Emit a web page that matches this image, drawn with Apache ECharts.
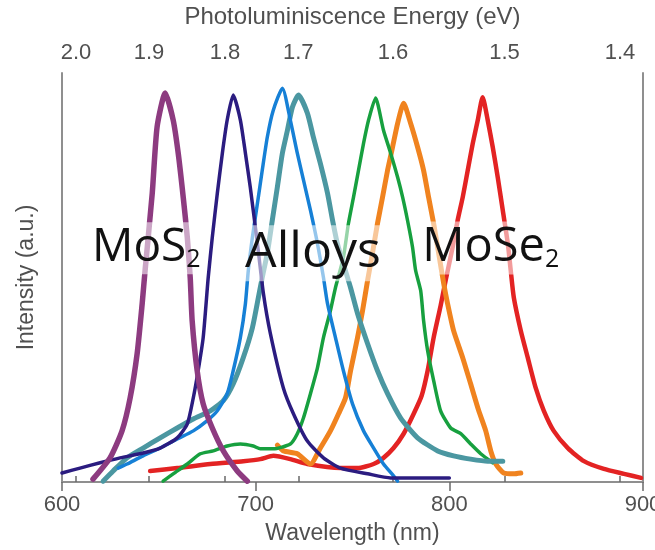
<!DOCTYPE html>
<html>
<head>
<meta charset="utf-8">
<title>Photoluminescence spectra</title>
<script src="https://cdn.jsdelivr.net/npm/echarts@6/dist/echarts.min.js"></script>
<style>
  html, body { margin: 0; padding: 0; background: #ffffff; }
  #chart { width: 655px; height: 550px; }
</style>
</head>
<body>
<div id="chart"></div>
<script>
// wavelength (nm) / normalised intensity
const mos2Wl = [616, 624.8, 631, 635.2, 638.8, 641.4, 642.9, 646.6, 649.1, 653.3, 657.4, 660, 662.6, 664.7, 666.2, 667.2, 669.8, 672.9, 677.6, 683.3, 690.5, 695.7];
const mos2Int = [0.007, 0.059, 0.125, 0.206, 0.314, 0.436, 0.517, 0.706, 0.868, 0.951, 0.885, 0.804, 0.696, 0.598, 0.5, 0.395, 0.272, 0.191, 0.132, 0.076, 0.027, 0.002];

const navyWl = [600, 609.3, 619.7, 630, 641.9, 650.7, 659.5, 664.7, 667.8, 670.3, 672.9, 675.5, 677.6, 680.2, 682.8, 685.3, 688.4, 692.1, 694.7, 697.2, 700.9, 704, 707.6, 714.3, 719.5, 726.7, 735, 743.8, 757.8, 769.7, 800];
const navyInt = [0.022, 0.034, 0.047, 0.059, 0.071, 0.083, 0.108, 0.142, 0.206, 0.272, 0.353, 0.5, 0.598, 0.706, 0.804, 0.885, 0.946, 0.885, 0.804, 0.721, 0.583, 0.461, 0.363, 0.23, 0.167, 0.1, 0.059, 0.034, 0.02, 0.01, 0.01];

const blueWl = [629, 633.6, 641.9, 650.7, 659.5, 667.8, 675, 680.2, 685.3, 688.4, 692.1, 694.7, 696.2, 698.3, 700.9, 703.4, 706, 709.1, 713.8, 717.9, 721.5, 724.7, 728.3, 731.9, 735, 737.1, 741.2, 745.3, 750, 755.7, 760.9, 766, 771.2, 773.3];
const blueInt = [0.034, 0.044, 0.064, 0.083, 0.105, 0.125, 0.15, 0.174, 0.216, 0.272, 0.353, 0.436, 0.517, 0.598, 0.681, 0.762, 0.843, 0.909, 0.963, 0.885, 0.804, 0.738, 0.664, 0.583, 0.5, 0.436, 0.353, 0.272, 0.191, 0.125, 0.083, 0.044, 0.015, 0.002];

const tealWl = [621.2, 626.4, 633.6, 641.9, 650.7, 659.5, 667.8, 676.6, 683.3, 688.4, 693.6, 698.3, 701.4, 703.4, 706, 708.6, 711.2, 713.8, 716.4, 719, 722.1, 726.7, 729.8, 733.4, 737.1, 739.7, 742.2, 749, 752.6, 757.8, 762.9, 768.1, 774.8, 783.6, 794, 802.2, 811, 819.8, 827.6];
const tealInt = [0.002, 0.027, 0.059, 0.083, 0.108, 0.132, 0.154, 0.174, 0.199, 0.24, 0.304, 0.377, 0.451, 0.5, 0.559, 0.64, 0.721, 0.804, 0.86, 0.917, 0.946, 0.902, 0.843, 0.779, 0.706, 0.64, 0.583, 0.475, 0.412, 0.338, 0.272, 0.216, 0.157, 0.108, 0.076, 0.064, 0.056, 0.051, 0.051];

const greenWl = [652.2, 657.4, 664.7, 671.4, 678.1, 685.3, 692.1, 698.8, 702.4, 709.1, 717.9, 721.5, 724.7, 728.3, 731.9, 735, 738.6, 741.2, 745.3, 747.9, 750.5, 753.1, 755.7, 758.3, 761.9, 766, 769.7, 773.3, 775.9, 778.4, 781, 782.6, 785.2, 786.7, 788.8, 791.9, 795.5, 800.7, 805.9, 811, 816.2, 822.4];
const greenInt = [0.002, 0.02, 0.044, 0.069, 0.076, 0.088, 0.093, 0.088, 0.081, 0.081, 0.093, 0.118, 0.157, 0.216, 0.279, 0.353, 0.419, 0.475, 0.549, 0.632, 0.696, 0.762, 0.828, 0.885, 0.939, 0.86, 0.804, 0.745, 0.696, 0.64, 0.574, 0.517, 0.468, 0.395, 0.321, 0.248, 0.174, 0.132, 0.118, 0.093, 0.069, 0.047];

const orangeWl = [711.2, 714.3, 721.5, 728.3, 733.4, 738.6, 742.8, 746.4, 749, 752.6, 755.2, 757.8, 760.3, 762.9, 765.5, 768.1, 770.7, 773.3, 776.4, 780, 783.6, 786.7, 789.3, 791.9, 794.5, 797.1, 799.1, 802.2, 806.9, 811, 815.2, 818.8, 821.4, 824, 828.1, 833.3, 836.9];
const orangeInt = [0.09, 0.076, 0.069, 0.044, 0.083, 0.125, 0.167, 0.206, 0.272, 0.353, 0.419, 0.493, 0.559, 0.632, 0.696, 0.762, 0.819, 0.877, 0.926, 0.877, 0.819, 0.762, 0.696, 0.632, 0.559, 0.485, 0.436, 0.37, 0.304, 0.24, 0.174, 0.125, 0.076, 0.044, 0.022, 0.02, 0.022];

const redWl = [645.5, 659.5, 676.6, 693.6, 702.4, 709.1, 717.9, 726.7, 743.8, 752.6, 760.9, 766, 771.2, 776.4, 781.6, 785.7, 788.8, 791.9, 795.5, 798.1, 801.7, 804.3, 806.9, 809.5, 812.1, 814.7, 817.2, 819.8, 822.4, 825, 827.6, 830.2, 831.7, 833.3, 836.9, 840.5, 844.6, 848.8, 853.9, 861.2, 869.5, 879.8, 890.2, 899];
const redInt = [0.027, 0.034, 0.044, 0.051, 0.056, 0.064, 0.056, 0.044, 0.034, 0.034, 0.044, 0.059, 0.083, 0.118, 0.167, 0.211, 0.272, 0.353, 0.431, 0.493, 0.574, 0.64, 0.696, 0.762, 0.828, 0.885, 0.941, 0.885, 0.819, 0.745, 0.664, 0.583, 0.517, 0.451, 0.37, 0.304, 0.23, 0.174, 0.125, 0.083, 0.051, 0.032, 0.02, 0.01];

// top axis: photon energy labels and where they sit on the wavelength scale
const energyLabels = ['2.0', '1.9', '1.8', '1.7', '1.6', '1.5', '1.4'];
const energyTickWl = [607.2, 644.9, 684.2, 722.0, 770.9, 828.5, 888.1];

const AXIS_FONT = '"Liberation Sans", Arial, sans-serif';
const LABEL_FONT = '"Open Sans", "Noto Sans", sans-serif';
const AXIS_GREY = '#8f8f8f';
const TEXT_GREY = '#505050';

function pairUp(xs, ys) {
  return xs.map((x, i) => [x, ys[i]]);
}

function spectrum(name, xs, ys, color, width) {
  return {
    name,
    type: 'line',
    data: pairUp(xs, ys),
    showSymbol: false,
    smooth: 0.2,
    lineStyle: { color, width, cap: 'round', join: 'round' },
    itemStyle: { color },
    silent: true,
  };
}

const chart = echarts.init(document.getElementById('chart'), null, { renderer: 'canvas' });

chart.setOption({
  animation: false,
  grid: { left: 62, right: 12, top: 73, bottom: 68, outerBoundsMode: 'none', containLabel: false },
  xAxis: [{
    type: 'value',
    position: 'bottom',
    min: 600,
    max: 900,
    interval: 100,
    name: 'Wavelength (nm)',
    nameLocation: 'middle',
    nameGap: 40,
    nameTextStyle: { fontFamily: AXIS_FONT, fontSize: 23, color: TEXT_GREY },
    axisLine: { lineStyle: { color: AXIS_GREY, width: 2 } },
    axisTick: { length: 9, lineStyle: { color: '#6a6a6a', width: 1.5 } },
    axisLabel: { fontFamily: AXIS_FONT, fontSize: 22, color: TEXT_GREY, margin: 12, hideOverlap: false },
    splitLine: { show: false },
  }, {
    type: 'value',
    position: 'top',
    min: 600,
    max: 900,
    name: 'Photoluminiscence Energy (eV)',
    nameLocation: 'middle',
    nameGap: 44,
    nameTextStyle: { fontFamily: AXIS_FONT, fontSize: 24, color: TEXT_GREY },
    axisLine: { lineStyle: { color: AXIS_GREY, width: 2 } },
    axisTick: { customValues: energyTickWl, length: 6, lineStyle: { color: '#6a6a6a', width: 1.5 } },
    axisLabel: {
      customValues: energyTickWl,
      fontFamily: AXIS_FONT,
      fontSize: 22,
      color: TEXT_GREY,
      margin: 9,
      formatter: (value) => {
        const i = energyTickWl.findIndex((w) => Math.abs(w - value) < 0.01);
        return i >= 0 ? energyLabels[i] : '';
      },
    },
    splitLine: { show: false },
  }],
  yAxis: [{
    type: 'value',
    min: 0,
    max: 1,
    name: 'Intensity (a.u.)',
    nameLocation: 'middle',
    nameGap: 24,
    nameTextStyle: { fontFamily: AXIS_FONT, fontSize: 23, color: TEXT_GREY },
    axisLine: { show: true, lineStyle: { color: AXIS_GREY, width: 2 } },
    axisTick: { show: false },
    axisLabel: { show: false },
    splitLine: { show: false },
  }, {
    type: 'value',
    position: 'right',
    min: 0,
    max: 1,
    axisLine: { show: true, lineStyle: { color: AXIS_GREY, width: 2 } },
    axisTick: { show: false },
    axisLabel: { show: false },
    splitLine: { show: false },
  }],
  series: [
    spectrum('red', redWl, redInt, '#e32323', 4.5),
    spectrum('orange', orangeWl, orangeInt, '#f0831f', 5),
    spectrum('green', greenWl, greenInt, '#17a03f', 3.5),
    spectrum('teal', tealWl, tealInt, '#4b97a1', 5),
    spectrum('blue', blueWl, blueInt, '#1680d6', 3.5),
    spectrum('navy', navyWl, navyInt, '#2b1c80', 3.5),
    spectrum('MoS2', mos2Wl, mos2Int, '#8d3b80', 5.5),
  ],
});

// big in-plot labels, anchored in data coordinates (left edge, baseline)
const plotLabels = [
  { main: 'MoS', sub: '2', size: 46, at: [615.5, 0.545] },
  { main: 'Alloys', sub: '', size: 50, at: [694.5, 0.53] },
  { main: 'MoSe', sub: '2', size: 47, at: [786, 0.545] },
];

chart.setOption({
  graphic: plotLabels.map((label) => {
    const [px, py] = chart.convertToPixel({ xAxisIndex: 0, yAxisIndex: 0 }, label.at);
    return {
      type: 'text',
      x: px,
      y: py - label.size * 0.8,
      z: 100,
      style: {
        text: label.sub ? `{m|${label.main}}{s|${label.sub}}` : `{m|${label.main}}`,
        backgroundColor: 'rgba(255,255,255,0.55)',
        padding: [2, 3, 2, 0],
        rich: {
          m: { fontFamily: LABEL_FONT, fontSize: label.size, lineHeight: label.size + 2, fill: '#111111' },
          s: { fontFamily: LABEL_FONT, fontSize: 25, lineHeight: 6, verticalAlign: 'bottom', fill: '#111111' },
        },
      },
    };
  }),
});
</script>
</body>
</html>
